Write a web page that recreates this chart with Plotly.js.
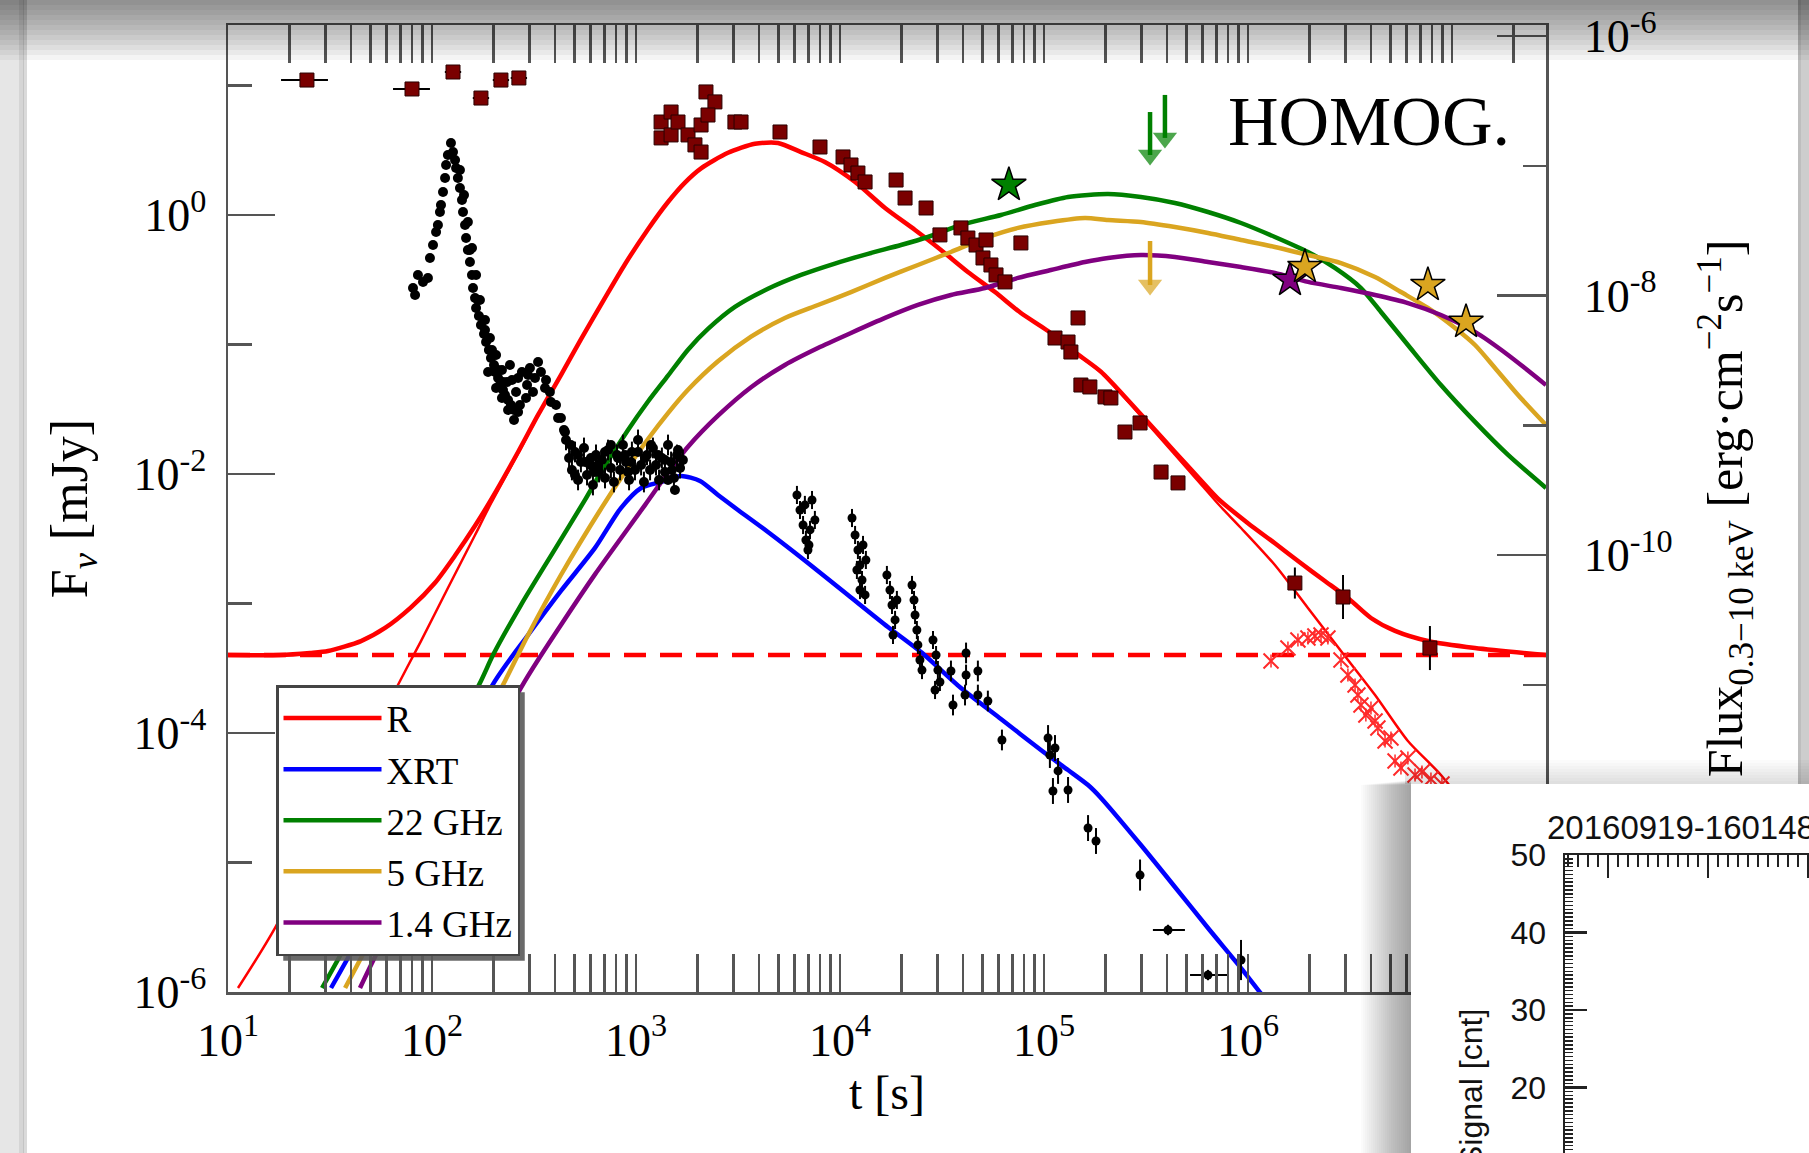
<!DOCTYPE html>
<html><head><meta charset="utf-8">
<script src="https://cdn.plot.ly/plotly-3.0.1.min.js"></script>
<style>html,body{margin:0;padding:0;background:#fff;overflow:hidden}#chart{width:1809px;height:1153px}</style>
</head><body><div id="chart"></div>
<script>
// ---------- DATA (log10 t [s], log10 F [mJy]) ----------
const xTickVals = [1e1,1e2,1e3,1e4,1e5,1e6,1e7];
const xTickText = ['10<sup>1</sup>','10<sup>2</sup>','10<sup>3</sup>','10<sup>4</sup>','10<sup>5</sup>','10<sup>6</sup>',''];
const yTickVals = [1e-6,1e-4,1e-2,1];
const yTickText = ['10<sup>-6</sup>','10<sup>-4</sup>','10<sup>-2</sup>','10<sup>0</sup>'];
const yMinorVals = [1e-5,1e-3,1e-1,1e1];
const y4TickVals = [1e-6,1e-8,1e-10];
const y4TickText = ['10<sup>-6</sup>','10<sup>-8</sup>','10<sup>-10</sup>'];
const y4MinorVals = [1e-7,1e-9,1e-11];

// model: R (total)
const rLogT = [1.000,1.255,1.402,1.490,1.652,1.770,1.897,2.015,2.113,2.211,2.289,2.422,2.520,2.632,2.730,2.848,2.946,3.059,3.157,3.240,3.319,3.451,3.583,3.696,3.809,3.926,4.074,4.221,4.368,4.495,4.627,4.760,4.887,5.020,5.152,5.279,5.412,5.510,5.642,5.770,5.853,6.000,6.132,6.260,6.377,6.490,6.603,6.721,6.882,7.113,7.461];
const rLogF = [-3.398,-3.398,-3.382,-3.367,-3.290,-3.189,-3.030,-2.840,-2.630,-2.400,-2.200,-1.830,-1.544,-1.236,-0.960,-0.640,-0.380,-0.110,0.100,0.250,0.360,0.480,0.550,0.556,0.486,0.409,0.255,0.054,-0.116,-0.270,-0.440,-0.595,-0.757,-0.896,-1.060,-1.210,-1.430,-1.600,-1.830,-2.050,-2.190,-2.380,-2.535,-2.690,-2.826,-2.958,-3.112,-3.212,-3.290,-3.344,-3.398];
// model: R afterglow only (thin)
const rtLogT = [1.049,1.230,1.833,1.946,2.078,2.211,2.289,2.422,2.520,2.632,2.730,2.848,2.946,3.059,3.157,3.240,3.319,3.451,3.583,3.696,3.809,3.926,4.074,4.221,4.368,4.495,4.627,4.760,4.887,5.020,5.152,5.279,5.412,5.510,5.642,5.770,5.853,5.966,6.132,6.294,6.456,6.623,6.784,6.946,7.137];
const rtLogF = [-5.969,-5.506,-3.629,-3.290,-2.880,-2.471,-2.228,-1.842,-1.550,-1.240,-0.962,-0.641,-0.381,-0.111,0.099,0.249,0.359,0.479,0.549,0.555,0.485,0.408,0.254,0.053,-0.117,-0.271,-0.441,-0.597,-0.759,-0.899,-1.064,-1.216,-1.440,-1.615,-1.850,-2.080,-2.230,-2.417,-2.703,-3.035,-3.367,-3.707,-4.062,-4.324,-4.710];
// host constant (dashed)
const hostLogT = [1.0, 7.461];
const hostLogF = [-3.398, -3.398];
// model: XRT
const bLogT = [1.505,1.623,2.309,2.471,2.632,2.799,2.926,3.025,3.123,3.221,3.314,3.402,3.500,3.647,3.843,4.039,4.235,4.397,4.593,4.789,4.985,5.118,5.216,5.275,5.475,5.642,5.804,5.966,6.069];
const bLogF = [-5.969,-5.637,-3.598,-3.243,-2.903,-2.571,-2.263,-2.108,-2.062,-2.015,-2.054,-2.162,-2.278,-2.448,-2.687,-2.934,-3.181,-3.375,-3.653,-3.892,-4.131,-4.286,-4.402,-4.494,-4.865,-5.189,-5.506,-5.815,-6.023];
// model: 22 GHz
const gLogT = [1.461,1.578,2.240,2.299,2.436,2.603,2.750,2.820,2.961,3.059,3.157,3.255,3.353,3.485,3.647,3.809,3.975,4.137,4.299,4.431,4.593,4.789,4.956,5.118,5.314,5.475,5.642,5.804,5.966,6.132,6.294,6.426,6.554,6.652,6.784,6.946,7.113,7.275,7.461];
const gLogF = [-5.969,-5.637,-3.598,-3.398,-3.012,-2.580,-2.200,-2.010,-1.660,-1.440,-1.240,-1.040,-0.880,-0.710,-0.570,-0.463,-0.375,-0.300,-0.232,-0.170,-0.077,0.000,0.077,0.139,0.162,0.139,0.093,0.023,-0.062,-0.170,-0.286,-0.409,-0.564,-0.749,-1.004,-1.313,-1.598,-1.853,-2.108];
// model: 5 GHz
const oLogT = [1.574,1.686,2.358,2.471,2.632,2.828,2.961,3.059,3.157,3.255,3.402,3.564,3.730,3.892,4.054,4.221,4.382,4.544,4.711,4.873,5.034,5.201,5.314,5.475,5.642,5.804,5.966,6.132,6.294,6.456,6.623,6.750,6.882,7.015,7.113,7.211,7.324,7.461];
const oLogF = [-5.969,-5.637,-3.598,-3.243,-2.780,-2.270,-1.950,-1.730,-1.530,-1.350,-1.130,-0.940,-0.795,-0.695,-0.595,-0.486,-0.386,-0.286,-0.178,-0.100,-0.054,-0.023,-0.039,-0.054,-0.093,-0.139,-0.193,-0.247,-0.309,-0.371,-0.479,-0.595,-0.718,-0.873,-1.004,-1.181,-1.390,-1.622];
// model: 1.4 GHz
const pLogT = [1.647,1.750,2.456,2.632,2.799,3.044,3.157,3.255,3.402,3.564,3.730,3.892,4.054,4.221,4.382,4.544,4.711,4.873,5.034,5.201,5.314,5.475,5.642,5.804,5.966,6.132,6.294,6.456,6.623,6.784,6.946,7.113,7.275,7.461];
const pLogF = [-5.969,-5.637,-3.598,-3.166,-2.775,-2.240,-1.990,-1.790,-1.550,-1.330,-1.158,-1.027,-0.911,-0.795,-0.695,-0.618,-0.564,-0.486,-0.425,-0.363,-0.332,-0.309,-0.324,-0.363,-0.402,-0.448,-0.517,-0.564,-0.618,-0.680,-0.772,-0.903,-1.081,-1.313];

// XRT data: flare and steep decay
const xeLogT = [1.917,1.907,1.931,1.956,1.980,1.990,2.005,2.020,2.029,2.039,2.044,2.054,2.064,2.069,2.078,2.093,2.103,2.118,2.137,2.152,2.167,2.186,2.201,2.216,2.240,2.265,2.289,2.309,2.333,2.358,2.387,2.422,2.382,2.422,2.471,2.520,2.495,2.554,2.583,2.618,2.652,2.681,2.716,2.750,2.779,2.814,2.848,2.877,2.912,2.946,2.975,3.010,3.044,3.074,3.108,2.701,2.799,2.961,3.142,3.176,3.206,3.157,3.191,
  2.186,2.225,2.260,2.294,2.324,2.348,2.275,2.314,2.343,2.373,2.402,
  2.113,2.127,2.147,2.162,2.176,2.196,2.211,2.230,2.255,2.279,2.304,2.324,2.348,2.373,2.402,2.137,2.157,2.176,2.196,2.216,2.235,2.260,2.284,2.314,2.343,2.368,
  2.392,2.412,2.441,2.466,2.480,2.505,2.534,2.559,2.578,2.608,2.632,2.647,2.431,2.461];
const xeLogF = [-0.618,-0.564,-0.463,-0.517,-0.486,-0.332,-0.232,-0.131,-0.077,0.023,0.077,0.178,0.286,0.386,0.463,0.556,0.486,0.363,0.208,0.023,-0.178,-0.363,-0.564,-0.718,-0.849,-0.981,-1.104,-1.212,-1.313,-1.390,-1.467,-1.521,-1.158,-1.259,-1.236,-1.135,-1.367,-1.336,-1.444,-1.568,-1.676,-1.776,-1.853,-1.907,-1.876,-1.931,-1.830,-1.776,-1.876,-1.853,-1.907,-1.830,-1.876,-1.776,-1.853,-2.008,-1.985,-1.985,-1.892,-1.969,-1.815,-2.046,-2.124,
  -0.270,-0.656,-0.888,-1.042,-1.197,-1.290,-1.212,-1.336,-1.413,-1.506,-1.583,
  0.425,0.286,0.116,-0.077,-0.270,-0.463,-0.641,-0.780,-0.919,-1.042,-1.158,-1.259,-1.351,-1.429,-1.506,0.347,0.154,-0.054,-0.255,-0.463,-0.656,-0.811,-0.950,-1.081,-1.197,-1.290,
  -1.274,-1.367,-1.212,-1.313,-1.181,-1.259,-1.212,-1.274,-1.367,-1.467,-1.568,-1.660,-1.467,-1.413];
// XRT data: plateau (with vertical errors in dex)
const xpLogT = [2.657,2.672,2.686,2.701,2.716,2.730,2.745,2.760,2.775,2.789,2.804,2.819,2.833,2.848,2.863,2.877,2.892,2.907,2.922,2.936,2.951,2.966,2.980,2.995,3.010,3.025,3.039,3.054,3.069,3.083,3.098,3.113,3.127,3.142,3.157,3.172,3.186,3.201,3.216,3.230];
const xpLogF = [-1.737,-1.876,-1.969,-1.830,-2.046,-1.907,-1.799,-2.008,-1.931,-2.085,-1.853,-1.985,-1.892,-2.031,-1.815,-1.954,-2.062,-1.853,-1.969,-1.776,-1.907,-2.046,-1.830,-1.969,-1.737,-1.931,-2.062,-1.853,-1.969,-1.799,-1.931,-2.046,-1.876,-1.985,-1.776,-1.907,-2.031,-1.853,-1.954,-1.892];
const xpErrDex = [0.08,0.08,0.08,0.08,0.08,0.08,0.08,0.08,0.08,0.08,0.08,0.08,0.08,0.08,0.08,0.08,0.08,0.08,0.08,0.08,0.08,0.08,0.08,0.08,0.08,0.08,0.08,0.08,0.08,0.08,0.08,0.08,0.08,0.08,0.08,0.08,0.08,0.08,0.08,0.08];
// XRT data, later part (with vertical errors in dex)
const xlLogT = [3.789,3.804,3.819,3.833,3.843,3.863,3.853,3.877,3.828,3.848, 4.059,4.074,4.088,4.098,4.108,4.123,4.083,4.113,4.127,4.098, 4.230,4.245,4.255,4.270,4.260,4.279, 4.353,4.363,4.368,4.377,4.382,4.392,4.402, 4.456,4.471,4.480,4.490,4.466, 4.544,4.554,4.618,4.618,4.613,4.676,4.676,4.725,4.794,5.020,5.029,5.054,5.069,5.044,5.118,5.216,5.255,5.471,5.966];
const xlLogF = [-2.162,-2.278,-2.394,-2.510,-2.587,-2.201,-2.432,-2.355,-2.239,-2.548, -2.340,-2.471,-2.587,-2.703,-2.819,-2.934,-2.741,-2.548,-2.664,-2.896, -2.780,-2.896,-3.012,-3.127,-3.243,-2.973, -2.857,-2.973,-3.089,-3.205,-3.320,-3.436,-3.514, -3.282,-3.398,-3.514,-3.606,-3.668, -3.521,-3.784,-3.382,-3.552,-3.707,-3.521,-3.707,-3.753,-4.054,-4.039,-4.170,-4.116,-4.293,-4.448,-4.440,-4.734,-4.834,-5.097,-5.753];
const xlErrDex = [0.07,0.07,0.07,0.07,0.07,0.07,0.07,0.07,0.07,0.07, 0.07,0.07,0.07,0.07,0.07,0.07,0.07,0.07,0.07,0.07, 0.07,0.07,0.07,0.07,0.07,0.07, 0.07,0.07,0.07,0.07,0.07,0.07,0.07, 0.07,0.07,0.07,0.07,0.07, 0.08,0.08,0.08,0.08,0.08,0.08,0.08,0.08,0.08,0.10,0.10,0.10,0.10,0.10,0.10,0.10,0.10,0.12,0.155];
// XRT data, last points with time bins
const xhLogT = [5.608, 5.804];
const xhLogF = [-5.521, -5.869];
const xhTMinusDex = [0.074, 0.088];
const xhTPlusDex = [0.083, 0.098];
const xhErrDex = [0.04, 0.04];

// R-band data (squares)
const rsLogT = [1.387,1.902,2.103,2.240,2.338,2.426,3.123,3.123,3.172,3.172,3.206,3.255,3.289,3.319,3.319,3.343,3.387,3.353,3.485,3.515,3.706,3.902,4.015,4.054,4.088,4.123,4.275,4.319,4.422,4.490,4.593,4.627,4.667,4.716,4.701,4.740,4.765,4.809,4.887,5.167,5.054,5.118,5.132,5.181,5.225,5.299,5.328,5.397,5.471,5.574,5.657,6.230,6.466,6.892];
const rsLogF = [1.042,0.973,1.104,0.903,1.042,1.058,0.718,0.595,0.795,0.618,0.718,0.618,0.541,0.486,0.695,0.950,0.873,0.772,0.718,0.718,0.641,0.525,0.448,0.386,0.324,0.255,0.270,0.131,0.054,-0.154,-0.100,-0.178,-0.232,-0.193,-0.332,-0.386,-0.463,-0.517,-0.216,-0.795,-0.950,-0.981,-1.058,-1.313,-1.328,-1.405,-1.413,-1.676,-1.606,-1.985,-2.069,-2.842,-2.950,-3.344];
const rsTMinusDex = [0.127,0.093,0.04,0.04,0.04,0.04,0,0,0,0, 0,0,0,0,0,0,0,0,0,0, 0,0,0,0,0,0,0,0,0,0, 0,0,0,0,0,0,0,0,0,0, 0,0,0,0,0,0,0,0,0,0, 0,0,0,0];
const rsTPlusDex = [0.103,0.088,0.04,0.04,0.04,0.04,0,0,0,0, 0,0,0,0,0,0,0,0,0,0, 0,0,0,0,0,0,0,0,0,0, 0,0,0,0,0,0,0,0,0,0, 0,0,0,0,0,0,0,0,0,0, 0,0,0,0];
const rsErrDex = [0.04,0.04,0.04,0.04,0.04,0.04,0.03,0.03,0.03,0.03, 0.03,0.03,0.03,0.03,0.03,0.03,0.03,0.03,0.03,0.03, 0.03,0.03,0.03,0.03,0.03,0.03,0.03,0.03,0.03,0.03, 0.03,0.03,0.03,0.03,0.03,0.03,0.03,0.03,0.04,0.03, 0.03,0.03,0.03,0.03,0.03,0.03,0.03,0.03,0.03,0.03, 0.03,0.12,0.17,0.17];
// R-band host-subtracted (crosses)
const rxLogT = [6.113,6.196,6.245,6.294,6.328,6.358,6.392,6.456,6.490,6.525,6.539,6.554,6.578,6.603,6.623,6.637,6.672,6.701,6.721,6.750,6.784,6.819,6.853,6.897,6.951];
const rxLogF = [-3.444,-3.344,-3.282,-3.266,-3.251,-3.243,-3.266,-3.436,-3.552,-3.629,-3.707,-3.784,-3.861,-3.807,-3.907,-3.961,-4.062,-4.039,-4.216,-4.270,-4.193,-4.324,-4.301,-4.355,-4.394];
const rxErrDex = [0.05,0.05,0.05,0.05,0.05,0.05,0.05,0.05,0.05,0.05,0.05,0.05,0.05,0.05,0.05,0.05,0.05,0.05,0.05,0.05,0.05,0.05,0.05,0.05,0.05];
// radio detections (stars)
const s22LogT = [4.828], s22LogF = [0.232];
const s14LogT = [6.206], s14LogF = [-0.502];
const s5LogT = [6.279, 6.882, 7.069], s5LogF = [-0.402, -0.541, -0.826];
// radio upper limits (arrows): time, tail flux, head flux
const ulLogT = [5.520, 5.593, 5.520];
const ulTailLogF = [0.795, 0.927, -0.201];
const ulHeadLogF = [0.463, 0.595, -0.541];
const ulColor = ['#008000', '#008000', '#daa520'];

// ---------- helpers ----------
const W = 1809, H = 1153;
const P = a => a.map(v => Math.pow(10, v));
const errUp = (lf, d) => lf.map((v, i) => Math.pow(10, v) * (Math.pow(10, d[i]) - 1));
const errDn = (lf, d) => lf.map((v, i) => Math.pow(10, v) * (1 - Math.pow(10, -d[i])));
const px = x => x / W, py = y => 1 - y / H;
const SERIF = 'Liberation Serif, Times New Roman, serif';
const SANS = 'Liberation Sans, Arial, sans-serif';

const xMinor = [];
for (let d = 1; d <= 7; d++) for (let m = 2; m <= 9; m++) { const v = m * Math.pow(10, d); if (Math.log10(v) <= 7.46) xMinor.push(v); }

const line = (lt, lf, color, width, extra) => Object.assign({
  type: 'scatter', mode: 'lines', x: P(lt), y: P(lf), hoverinfo: 'skip',
  line: {color: color, width: width, shape: 'spline', smoothing: 0.7}
}, extra || {});

const traces = [
  line(hostLogT, hostLogF, '#ff0000', 4.5, {showlegend: false, line: {color: '#ff0000', width: 4.5, dash: '22px,14px'}}),
  line(rtLogT, rtLogF, '#ff0000', 2.5, {showlegend: false}),
  line(rLogT, rLogF, '#ff0000', 4.5, {name: 'R'}),
  line(bLogT, bLogF, '#0000ff', 4.5, {name: 'XRT'}),
  line(gLogT, gLogF, '#008000', 4.5, {name: '22 GHz'}),
  line(oLogT, oLogF, '#daa520', 4.5, {name: '5 GHz'}),
  line(pLogT, pLogF, '#800080', 4.5, {name: '1.4 GHz'}),
  {type: 'scatter', mode: 'markers', x: P(xeLogT), y: P(xeLogF), showlegend: false, hoverinfo: 'skip',
   marker: {symbol: 'circle', size: 10, color: '#000'}},
  {type: 'scatter', mode: 'markers', x: P(xpLogT), y: P(xpLogF), showlegend: false, hoverinfo: 'skip',
   marker: {symbol: 'circle', size: 10, color: '#000'},
   error_y: {type: 'data', symmetric: false, array: errUp(xpLogF, xpErrDex), arrayminus: errDn(xpLogF, xpErrDex), color: '#000', thickness: 2, width: 0}},
  {type: 'scatter', mode: 'markers', x: P(xlLogT), y: P(xlLogF), showlegend: false, hoverinfo: 'skip',
   marker: {symbol: 'circle', size: 9, color: '#000'},
   error_y: {type: 'data', symmetric: false, array: errUp(xlLogF, xlErrDex), arrayminus: errDn(xlLogF, xlErrDex), color: '#000', thickness: 2, width: 0}},
  {type: 'scatter', mode: 'markers', x: P(xhLogT), y: P(xhLogF), showlegend: false, hoverinfo: 'skip',
   marker: {symbol: 'circle', size: 9, color: '#000'},
   error_y: {type: 'data', symmetric: false, array: errUp(xhLogF, xhErrDex), arrayminus: errDn(xhLogF, xhErrDex), color: '#000', thickness: 2, width: 0},
   error_x: {type: 'data', symmetric: false, array: errUp(xhLogT, xhTPlusDex), arrayminus: errDn(xhLogT, xhTMinusDex), color: '#000', thickness: 2, width: 0}},
  {type: 'scatter', mode: 'markers', x: P(rxLogT), y: P(rxLogF), showlegend: false, hoverinfo: 'skip',
   marker: {symbol: 'x-thin-open', size: 15, color: '#ff2a2a', line: {color: '#ff2a2a', width: 2}},
   error_y: {type: 'data', symmetric: false, array: errUp(rxLogF, rxErrDex), arrayminus: errDn(rxLogF, rxErrDex), color: '#ff2a2a', thickness: 1.5, width: 0}},
  {type: 'scatter', mode: 'markers', x: P(rsLogT), y: P(rsLogF), showlegend: false, hoverinfo: 'skip',
   marker: {symbol: 'square', size: 14, color: '#7a0000', line: {color: '#2a0000', width: 1}},
   error_y: {type: 'data', symmetric: false, array: errUp(rsLogF, rsErrDex), arrayminus: errDn(rsLogF, rsErrDex), color: '#000', thickness: 2, width: 0},
   error_x: {type: 'data', symmetric: false, array: errUp(rsLogT, rsTPlusDex), arrayminus: errDn(rsLogT, rsTMinusDex), color: '#000', thickness: 2, width: 0}},
  {type: 'scatter', mode: 'markers', x: P(s22LogT), y: P(s22LogF), showlegend: false, hoverinfo: 'skip',
   marker: {symbol: 'star', size: 26, color: '#008000', line: {color: '#000', width: 1.5}}},
  {type: 'scatter', mode: 'markers', x: P(s14LogT), y: P(s14LogF), showlegend: false, hoverinfo: 'skip',
   marker: {symbol: 'star', size: 26, color: '#800080', line: {color: '#000', width: 1.5}}},
  {type: 'scatter', mode: 'markers', x: P(s5LogT), y: P(s5LogF), showlegend: false, hoverinfo: 'skip',
   marker: {symbol: 'star', size: 26, color: '#daa520', line: {color: '#000', width: 1.5}}}
];
// upper limits: shaft + arrow head
ulLogT.forEach((t, i) => traces.push({
  type: 'scatter', mode: 'lines+markers', x: P([t, t]), y: P([ulTailLogF[i], ulHeadLogF[i]]), showlegend: false, hoverinfo: 'skip',
  line: {color: ulColor[i], width: 4.5}, marker: {symbol: 'triangle-down', size: [0, 21], color: ulColor[i], line: {width: 0}}
}));
// right-hand flux axis, the overlapping window background and its plot
traces.push({type: 'scatter', x: [], y: [], xaxis: 'x', yaxis: 'y4', showlegend: false, hoverinfo: 'skip'});
traces.push({type: 'scatter', x: [], y: [], xaxis: 'x2', yaxis: 'y2', showlegend: false, hoverinfo: 'skip'});
traces.push({type: 'scatter', x: [], y: [], xaxis: 'x3', yaxis: 'y3', showlegend: false, hoverinfo: 'skip'});

// ---------- decorations ----------
const rectPx = (x0, y0, x1, y1, fill, op) => ({type: 'rect', xref: 'paper', yref: 'paper', layer: 'above',
  x0: px(x0), x1: px(x1), y0: py(y1), y1: py(y0), fillcolor: fill, opacity: op, line: {width: 0}});
const shapes = [];
shapes.push(rectPx(0, 0, 24, H, '#e6e6e6', 1));
shapes.push(rectPx(19, 0, 27, H, '#000', 0.07));
shapes.push(rectPx(23, 0, 27, H, '#000', 0.08));
shapes.push(rectPx(1798, 0, W, 784, '#cdcdcd', 1));
shapes.push(rectPx(1798, 0, 1801, 784, '#000', 0.07));
for (let k = 1; k <= 12; k++) shapes.push(rectPx(0, 0, W, 5 * k, '#000', 0.045));
for (let k = 1; k <= 25; k++) shapes.push(rectPx(1411 - 2 * k, 780 + k * 0.2, 1411, H, '#000', 0.017));
for (let k = 1; k <= 8; k++) shapes.push(rectPx(1405, 784 - 3 * k, W, 784, '#000', 0.016));

const annotations = [
  {xref: 'paper', yref: 'paper', x: px(1369), y: py(122), text: 'HOMOG.', showarrow: false,
   xanchor: 'center', yanchor: 'middle', font: {family: SERIF, size: 70, color: '#000'}},
  {xref: 'paper', yref: 'paper', x: px(1545), y: py(827), text: '20160919-160148', showarrow: false,
   xanchor: 'left', yanchor: 'middle', font: {family: SANS, size: 33, color: '#111'}},
  {xref: 'paper', yref: 'paper', x: px(1471), y: py(1088), text: 'Signal [cnt]', showarrow: false, textangle: -90,
   xanchor: 'center', yanchor: 'middle', font: {family: SANS, size: 32, color: '#111'}}
];

const AX = '#555';
const layout = {
  width: W, height: H, margin: {l: 0, r: 0, t: 0, b: 0, pad: 0},
  paper_bgcolor: '#fff', plot_bgcolor: '#fff', hovermode: false,
  font: {family: SERIF, color: '#000'},
  showlegend: true,
  legend: {x: px(276), y: py(685), xanchor: 'left', yanchor: 'top', bgcolor: '#fff', bordercolor: '#444', borderwidth: 2.5,
    font: {family: SERIF, size: 37, color: '#000'}, itemwidth: 98, tracegroupgap: 0},
  xaxis: {type: 'log', range: [1, 7.461], domain: [px(228), px(1546)], anchor: 'y', automargin: false,
    showline: true, linecolor: AX, linewidth: 2.5, mirror: 'allticks', showgrid: false, zeroline: false,
    ticks: 'inside', ticklen: 38, tickwidth: 2.5, tickcolor: AX, tickmode: 'array', tickvals: xTickVals, ticktext: xTickText,
    tickfont: {family: SERIF, size: 46, color: '#000'}, ticklabelstandoff: 6,
    minor: {tickmode: 'array', tickvals: xMinor, ticks: 'inside', ticklen: 19, tickwidth: 2.5, tickcolor: AX, showgrid: false},
    title: {text: 't [s]', font: {family: SERIF, size: 48, color: '#000'}, standoff: 6}},
  yaxis: {type: 'log', range: [-6, 1.467], domain: [py(992), py(25)], anchor: 'x', automargin: false,
    showline: true, linecolor: AX, linewidth: 2.5, showgrid: false, zeroline: false,
    ticks: 'inside', ticklen: 47, tickwidth: 2.5, tickcolor: AX, tickmode: 'array', tickvals: yTickVals, ticktext: yTickText,
    tickfont: {family: SERIF, size: 46, color: '#000'}, ticklabelstandoff: 10,
    minor: {tickmode: 'array', tickvals: yMinorVals, ticks: 'inside', ticklen: 24, tickwidth: 2.5, tickcolor: AX, showgrid: false},
    title: {text: 'F<sub><i>ν</i></sub> [mJy]', font: {family: SERIF, size: 52, color: '#000'}, standoff: 30}},
  yaxis4: {type: 'log', overlaying: 'y', side: 'right', anchor: 'x', range: [-13.368, -5.915], automargin: false,
    showline: true, linecolor: AX, linewidth: 2.5, showgrid: false, zeroline: false,
    ticks: 'inside', ticklen: 49, tickwidth: 2.5, tickcolor: AX, tickmode: 'array', tickvals: y4TickVals, ticktext: y4TickText,
    tickfont: {family: SERIF, size: 46, color: '#000'}, ticklabelstandoff: 26,
    minor: {tickmode: 'array', tickvals: y4MinorVals, ticks: 'inside', ticklen: 23, tickwidth: 2.5, tickcolor: AX, showgrid: false},
    title: {text: 'Flux<sub>0.3−10 keV</sub> [erg·cm<sup>−2</sup>s<sup>−1</sup>]', font: {family: SERIF, size: 50, color: '#000'}, standoff: 36}},
  xaxis2: {domain: [px(1411), 1], anchor: 'y2', visible: false, range: [0, 1]},
  yaxis2: {domain: [0, py(784)], anchor: 'x2', visible: false, range: [0, 1]},
  xaxis3: {domain: [px(1565), 1], anchor: 'y3', side: 'top', range: [-4.3, 20.1], automargin: false,
    showline: true, linecolor: '#222', linewidth: 2.5, showgrid: false, zeroline: false, showticklabels: false,
    ticks: 'inside', ticklen: 23, tickwidth: 2.5, tickcolor: '#222', dtick: 10, tick0: 0,
    minor: {dtick: 1, tick0: 0, ticks: 'inside', ticklen: 12, tickwidth: 2, tickcolor: '#222', showgrid: false}},
  yaxis3: {domain: [0, py(855)], anchor: 'x3', range: [11.55, 50], automargin: false,
    showline: true, linecolor: '#222', linewidth: 2.5, showgrid: false, zeroline: false,
    ticks: 'inside', ticklen: 22, tickwidth: 2.5, tickcolor: '#222', dtick: 10, tick0: 0,
    tickfont: {family: SANS, size: 32, color: '#111'}, ticklabelstandoff: 10,
    minor: {dtick: 0.5, tick0: 0, ticks: 'inside', ticklen: 8, tickwidth: 1.5, tickcolor: '#222', showgrid: false}},
  shapes: shapes,
  annotations: annotations
};

Plotly.newPlot('chart', traces, layout, {staticPlot: true, displayModeBar: false}).then(gd => {
  // drop shadow behind the legend box, sized from the rendered legend
  const bg = gd.querySelector('.legend .bg');
  if (!bg) return;
  const r = bg.getBoundingClientRect(), h = gd.getBoundingClientRect();
  const sh = rectPx(r.left - h.left + 6, r.top - h.top + 6, r.right - h.left + 6, r.bottom - h.top + 6, '#5a5a5a', 0.9);
  return Plotly.relayout(gd, {shapes: [sh].concat(shapes)});
});
</script></body></html>
